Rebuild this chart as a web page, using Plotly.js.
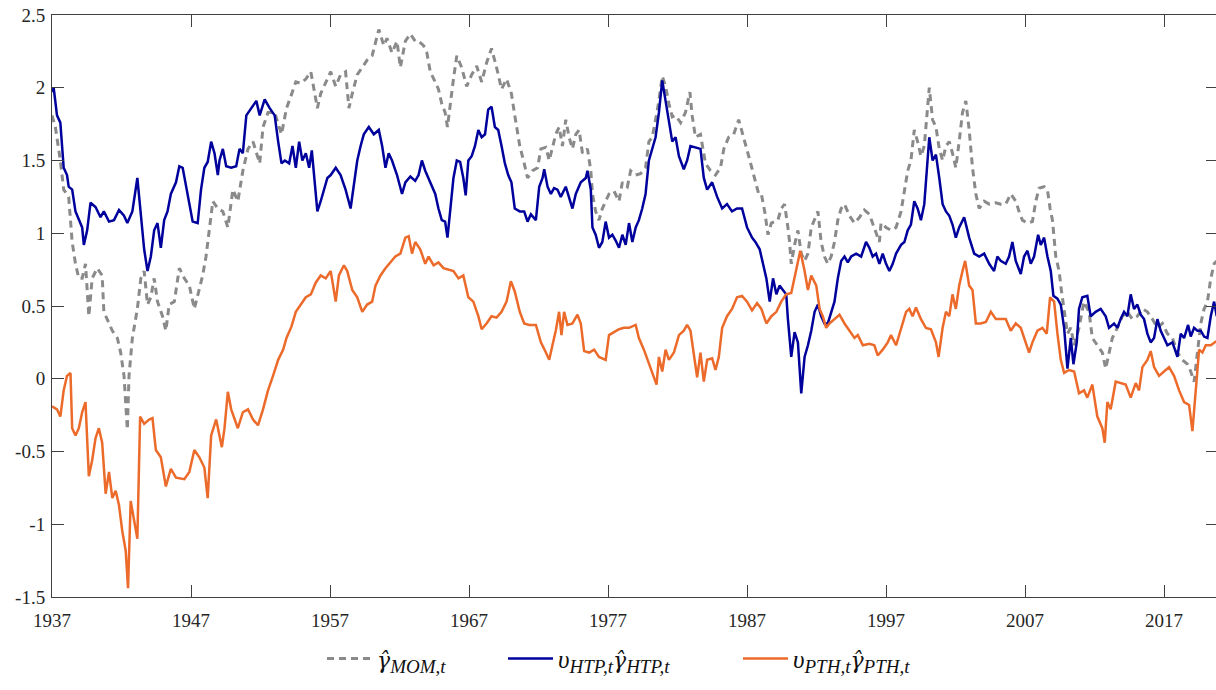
<!DOCTYPE html>
<html>
<head>
<meta charset="utf-8">
<script src="https://cdn.plot.ly/plotly-3.0.1.min.js"></script>
<style>
html,body{margin:0;padding:0;background:#fff;overflow:hidden;}
#chart{width:1220px;height:690px;}
</style>
</head>
<body>
<div id="chart"></div>
<script>
// ---------- data ----------
const htp_year = [1937.0,1937.12,1937.36,1937.6,1937.84,1938.08,1938.2,1938.45,1938.69,1938.93,1939.17,1939.29,1939.53,1939.77,1940.13,1940.49,1940.73,1941.1,1941.46,1941.82,1942.18,1942.42,1942.78,1943.14,1943.39,1943.63,1943.87,1944.11,1944.35,1944.59,1944.83,1945.07,1945.31,1945.55,1945.92,1946.16,1946.4,1946.76,1947.12,1947.48,1947.72,1947.96,1948.2,1948.45,1948.69,1948.93,1949.05,1949.29,1949.53,1949.89,1950.25,1950.49,1950.73,1950.98,1951.34,1951.7,1951.94,1952.3,1952.66,1953.02,1953.27,1953.51,1953.75,
1954.06,1954.3,1954.54,1954.78,1955.01,1955.26,1955.5,1955.69,1955.85,1956.09,1956.33,1956.57,1956.81,1957.05,1957.41,1957.76,1958.12,1958.48,1958.72,1958.96,1959.2,1959.43,1959.79,1960.15,1960.51,1960.75,1960.99,1961.22,1961.46,1961.82,1962.18,1962.42,1962.78,1963.13,1963.37,1963.61,1963.85,1964.21,1964.57,1964.8,1965.04,1965.28,1965.45,1965.64,1965.88,1966.12,1966.36,1966.59,1966.76,1966.95,1967.19,1967.43,1967.67,1967.91,1968.15,1968.38,1968.62,1968.86,1969.1,1969.34,1969.58,1969.82,1970.05,1970.29,1970.65,
1970.97,1971.21,1971.45,1971.81,1972.05,1972.29,1972.41,1972.65,1972.89,1973.12,1973.36,1973.6,1973.96,1974.2,1974.44,1974.68,1975.04,1975.4,1975.52,1975.76,1975.88,1976.11,1976.35,1976.59,1976.83,1977.07,1977.31,1977.55,1977.79,1978.03,1978.27,1978.51,1978.75,1978.99,1979.22,1979.46,1979.7,1979.94,1980.18,1980.42,1980.66,1980.9,1981.14,1981.38,1981.62,1981.86,1982.1,1982.45,1982.69,1982.93,1983.29,1983.65,1983.89,1984.13,1984.49,1984.85,1985.21,1985.56,1985.92,1986.28,1986.64,1987.0,1987.36,1987.6,
1987.91,1988.15,1988.39,1988.63,1988.87,1989.11,1989.34,1989.58,1989.82,1989.94,1990.18,1990.42,1990.66,1990.9,1991.14,1991.38,1991.62,1991.86,1992.1,1992.33,1992.57,1992.81,1993.05,1993.29,1993.53,1993.77,1994.01,1994.25,1994.49,1994.85,1995.21,1995.56,1995.8,1996.04,1996.28,1996.52,1996.76,1997.0,1997.24,1997.48,1997.72,1998.08,1998.32,1998.56,1998.79,1999.03,1999.27,1999.51,1999.75,1999.92,2000.11,2000.35,2000.59,2000.83,2001.07,2001.31,2001.55,2001.78,2002.02,2002.26,2002.62,2002.98,2003.34,2003.7,2004.06,2004.42,
2004.77,2005.01,2005.25,2005.61,2005.85,2006.09,2006.33,2006.69,2006.93,2007.17,2007.41,2007.65,2007.94,2008.13,2008.37,2008.61,2008.85,2009.04,2009.33,2009.57,2009.81,2010.05,2010.29,2010.48,2010.72,2010.88,2011.12,2011.48,2011.72,2012.08,2012.44,2012.8,2013.04,2013.4,2013.64,2013.88,2014.12,2014.36,2014.6,2014.84,2015.08,2015.32,2015.56,2015.8,2016.04,2016.28,2016.52,2016.76,2017.0,2017.24,2017.6,2017.96,2018.2,2018.44,2018.73,2018.92,2019.16,2019.4,2019.64,2019.88,2020.12,2020.36,2020.6,2020.79];
const htp_val = [1.97,2.0,1.81,1.76,1.45,1.40,1.32,1.30,1.15,1.09,1.04,0.92,1.02,1.21,1.18,1.11,1.15,1.08,1.09,1.16,1.12,1.07,1.15,1.38,1.12,0.89,0.74,0.84,1.02,1.07,0.90,1.09,1.15,1.27,1.35,1.46,1.45,1.27,1.08,1.07,1.30,1.45,1.49,1.63,1.55,1.40,1.50,1.58,1.46,1.45,1.46,1.58,1.55,1.81,1.86,1.91,1.81,1.92,1.86,1.81,1.63,1.48,1.50,
1.48,1.60,1.45,1.63,1.50,1.55,1.45,1.57,1.38,1.15,1.22,1.30,1.38,1.40,1.45,1.40,1.30,1.17,1.32,1.50,1.60,1.68,1.73,1.68,1.71,1.60,1.45,1.55,1.50,1.40,1.27,1.35,1.39,1.36,1.40,1.50,1.43,1.35,1.27,1.17,1.09,1.08,0.97,1.15,1.38,1.50,1.49,1.38,1.26,1.50,1.53,1.60,1.71,1.66,1.68,1.85,1.87,1.73,1.71,1.60,1.48,1.40,1.35,1.17,1.15,
1.15,1.08,1.13,1.09,1.32,1.38,1.44,1.32,1.27,1.31,1.30,1.25,1.32,1.25,1.17,1.27,1.35,1.38,1.43,1.30,1.04,0.99,0.90,0.94,1.08,0.97,0.99,0.95,0.90,0.99,0.92,1.07,0.94,1.04,1.09,1.17,1.27,1.50,1.58,1.66,1.83,2.05,1.91,1.78,1.63,1.66,1.53,1.44,1.50,1.60,1.59,1.58,1.38,1.30,1.35,1.25,1.17,1.20,1.15,1.17,1.17,1.04,0.97,0.94,
0.89,0.79,0.69,0.53,0.69,0.58,0.64,0.61,0.58,0.41,0.15,0.32,0.25,-0.10,0.15,0.23,0.33,0.46,0.51,0.43,0.38,0.38,0.46,0.53,0.69,0.81,0.84,0.80,0.84,0.86,0.84,0.94,0.90,0.84,0.86,0.79,0.86,0.79,0.74,0.79,0.86,0.92,0.94,1.02,1.06,1.22,1.17,1.09,1.20,1.40,1.66,1.50,1.54,1.38,1.20,1.15,1.12,1.06,0.97,1.04,1.11,0.97,0.86,0.84,0.86,0.79,
0.74,0.84,0.81,0.79,0.84,0.94,0.81,0.72,0.84,0.88,0.79,0.84,0.99,0.92,0.97,0.84,0.74,0.57,0.55,0.51,0.35,0.07,0.28,0.10,0.25,0.48,0.56,0.57,0.43,0.46,0.48,0.43,0.35,0.38,0.35,0.41,0.46,0.43,0.58,0.48,0.51,0.44,0.41,0.31,0.25,0.28,0.41,0.33,0.28,0.23,0.25,0.15,0.31,0.28,0.37,0.29,0.35,0.33,0.33,0.29,0.28,0.43,0.53,0.43];

const mom_year = [1937.0,1937.24,1937.6,1937.84,1938.2,1938.45,1938.69,1938.93,1939.17,1939.41,1939.65,1939.89,1940.25,1940.61,1940.73,1941.1,1941.34,1941.7,1941.94,1942.18,1942.42,1942.54,1942.78,1943.14,1943.39,1943.63,1943.87,1944.11,1944.35,1944.59,1944.95,1945.19,1945.43,1945.8,1946.16,1946.52,1946.88,1947.24,1947.6,1947.84,1948.08,1948.33,1948.57,1948.93,1949.29,1949.65,1950.01,1950.37,1950.73,1951.1,1951.46,1951.94,1952.18,1952.54,1953.02,1953.51,1953.87,
1954.18,1954.54,1954.9,1955.26,1955.62,1955.85,1956.09,1956.33,1956.69,1957.05,1957.41,1957.76,1958.12,1958.36,1958.6,1958.96,1959.32,1959.67,1960.03,1960.27,1960.51,1960.87,1961.1,1961.46,1961.82,1962.06,1962.42,1962.78,1963.13,1963.37,1963.73,1963.97,1964.21,1964.57,1964.8,1965.04,1965.28,1965.45,1965.64,1965.88,1966.12,1966.47,1966.83,1967.19,1967.55,1967.91,1968.26,1968.62,1968.98,1969.34,1969.7,1970.05,1970.29,1970.65,
1970.97,1971.21,1971.57,1971.93,1972.17,1972.53,1972.77,1973.0,1973.24,1973.48,1973.72,1973.96,1974.2,1974.44,1974.68,1974.92,1975.16,1975.52,1975.76,1975.88,1976.11,1976.35,1976.59,1976.83,1977.07,1977.43,1977.79,1978.03,1978.39,1978.63,1978.99,1979.34,1979.7,1979.94,1980.18,1980.42,1980.66,1980.9,1981.14,1981.38,1981.62,1981.86,1982.22,1982.57,1982.89,1983.05,1983.29,1983.65,1984.01,1984.37,1984.73,1985.09,1985.33,1985.68,1986.04,1986.4,1986.76,1987.12,1987.48,1987.84,
1988.03,1988.27,1988.51,1988.75,1988.99,1989.22,1989.46,1989.7,1989.94,1990.06,1990.18,1990.42,1990.66,1990.9,1991.14,1991.38,1991.62,1991.86,1992.1,1992.33,1992.57,1992.81,1993.05,1993.29,1993.53,1993.77,1994.01,1994.37,1994.73,1995.09,1995.44,1995.8,1996.16,1996.52,1996.64,1997.0,1997.36,1997.72,1998.08,1998.32,1998.56,1998.79,1999.03,1999.27,1999.51,1999.75,1999.92,2000.11,2000.35,2000.59,2000.83,2001.07,2001.31,2001.55,2001.78,2002.02,2002.26,2002.5,2002.74,2002.98,2003.22,2003.46,2003.7,2004.06,2004.42,2004.9,
2005.25,2005.61,2005.97,2006.33,2006.57,2006.81,2007.17,2007.53,2007.77,2008.01,2008.37,2008.61,2008.8,2008.97,2009.21,2009.45,2009.61,2009.81,2010.05,2010.29,2010.53,2010.88,2011.24,2011.6,2011.84,2012.2,2012.56,2012.8,2013.04,2013.28,2013.64,2014.0,2014.36,2014.72,2015.08,2015.44,2015.8,2016.16,2016.52,2016.88,2017.24,2017.6,2017.96,2018.32,2018.68,2018.92,2019.16,2019.4,2019.64,2019.88,2020.12,2020.36,2020.6,2020.79];
const mom_val = [1.81,1.73,1.50,1.30,1.25,0.94,0.79,0.69,0.69,0.79,0.43,0.69,0.76,0.71,0.46,0.38,0.33,0.28,0.18,0.02,-0.35,0.02,0.28,0.48,0.69,0.74,0.51,0.56,0.69,0.53,0.43,0.33,0.51,0.53,0.76,0.69,0.64,0.48,0.61,0.71,0.84,1.04,1.22,1.17,1.15,1.04,1.30,1.22,1.43,1.58,1.63,1.48,1.73,1.83,1.83,1.68,1.86,
1.94,2.04,2.03,2.06,2.11,1.99,1.86,1.96,2.04,2.11,2.01,2.09,2.11,1.86,1.96,2.09,2.14,2.19,2.22,2.32,2.40,2.29,2.34,2.24,2.32,2.14,2.32,2.37,2.32,2.32,2.29,2.24,2.11,2.04,1.99,1.89,1.83,1.73,1.89,2.06,2.22,2.14,2.01,2.09,2.15,2.04,2.17,2.27,2.14,1.99,2.06,1.96,1.81,1.60,
1.48,1.38,1.43,1.45,1.58,1.59,1.50,1.58,1.68,1.73,1.60,1.78,1.66,1.58,1.68,1.71,1.55,1.58,1.43,1.27,1.15,1.09,1.17,1.22,1.27,1.29,1.22,1.35,1.32,1.43,1.40,1.41,1.45,1.63,1.66,1.78,1.91,2.08,2.01,1.89,1.80,1.81,1.76,1.83,1.97,1.81,1.66,1.68,1.48,1.43,1.40,1.45,1.58,1.66,1.68,1.78,1.66,1.53,1.40,1.27,
1.27,1.15,0.99,1.07,1.08,1.09,1.17,1.20,1.04,0.94,0.79,0.92,1.02,0.86,0.81,0.86,1.04,1.09,1.15,0.94,0.84,0.79,0.84,0.94,1.09,1.17,1.20,1.12,1.07,1.11,1.16,1.13,1.04,0.94,1.07,1.04,1.02,1.04,1.15,1.30,1.43,1.50,1.71,1.63,1.53,1.60,1.81,2.00,1.78,1.73,1.58,1.50,1.60,1.63,1.55,1.45,1.63,1.83,1.91,1.71,1.45,1.27,1.17,1.22,1.20,1.21,
1.20,1.20,1.27,1.22,1.15,1.09,1.07,1.08,1.22,1.31,1.32,1.30,1.17,1.09,0.84,0.74,0.61,0.46,0.31,0.35,0.23,0.35,0.53,0.46,0.28,0.23,0.18,0.07,0.18,0.28,0.35,0.43,0.46,0.41,0.43,0.48,0.46,0.41,0.35,0.38,0.31,0.28,0.18,0.13,0.10,0.05,-0.02,0.18,0.38,0.48,0.53,0.69,0.79,0.81];

const pth_year = [1937.0,1937.36,1937.6,1937.84,1938.08,1938.33,1938.45,1938.69,1938.93,1939.17,1939.41,1939.65,1939.89,1940.13,1940.37,1940.61,1940.86,1941.1,1941.34,1941.58,1941.82,1942.06,1942.3,1942.47,1942.66,1942.9,1943.14,1943.34,1943.63,1943.99,1944.23,1944.47,1944.83,1945.19,1945.55,1945.92,1946.52,1946.88,1947.24,1947.6,1947.96,1948.2,1948.45,1948.81,1949.05,1949.22,1949.41,1949.65,1949.89,1950.13,1950.37,1950.73,1951.1,1951.46,1951.82,1952.18,1952.54,1952.9,1953.27,1953.63,1953.87,1954.23,
1954.54,1954.9,1955.26,1955.62,1955.97,1956.33,1956.69,1957.05,1957.41,1957.64,1958.0,1958.24,1958.6,1958.96,1959.32,1959.67,1960.03,1960.27,1960.63,1960.99,1961.34,1961.7,1962.06,1962.42,1962.66,1962.9,1963.13,1963.49,1963.85,1964.09,1964.45,1964.8,1965.16,1965.52,1965.88,1966.24,1966.59,1966.95,1967.31,1967.67,1967.91,1968.26,1968.62,1968.98,1969.34,1969.7,1970.01,1970.29,1970.65,
1970.97,1971.33,1971.81,1972.17,1972.53,1972.77,1973.0,1973.24,1973.48,1973.65,1973.84,1974.08,1974.44,1974.8,1975.04,1975.28,1975.64,1976.0,1976.35,1976.83,1977.07,1977.43,1977.79,1978.15,1978.51,1978.99,1979.22,1979.58,1979.94,1980.18,1980.49,1980.66,1980.9,1981.14,1981.38,1981.74,1982.1,1982.45,1982.69,1982.93,1983.17,1983.41,1983.65,1983.89,1984.13,1984.49,1984.73,1984.97,1985.21,1985.56,1985.92,1986.28,1986.64,1987.0,1987.36,1987.72,
1988.03,1988.39,1988.75,1989.11,1989.46,1989.82,1990.18,1990.54,1990.83,1991.14,1991.38,1991.62,1991.98,1992.22,1992.45,1992.69,1992.93,1993.29,1993.65,1994.01,1994.37,1994.73,1994.97,1995.33,1995.8,1996.16,1996.4,1996.76,1997.12,1997.36,1997.72,1998.08,1998.44,1998.67,1998.91,1999.15,1999.51,1999.87,2000.23,2000.59,2000.78,2001.07,2001.31,2001.55,2001.78,2002.02,2002.26,2002.5,2002.69,2002.98,2003.22,2003.46,2003.82,2004.18,2004.54,2004.9,
2005.25,2005.61,2005.97,2006.33,2006.69,2006.93,2007.29,2007.53,2007.89,2008.25,2008.56,2008.8,2009.09,2009.33,2009.57,2009.81,2010.17,2010.53,2010.88,2011.24,2011.48,2011.84,2012.2,2012.56,2012.73,2012.92,2013.16,2013.52,2013.88,2014.24,2014.6,2014.96,2015.2,2015.44,2015.8,2016.04,2016.28,2016.64,2017.0,2017.36,2017.72,2018.08,2018.44,2018.8,2019.04,2019.28,2019.52,2019.76,2020.0,2020.36,2020.79];
const pth_val = [-0.19,-0.21,-0.26,-0.08,0.02,0.04,-0.34,-0.39,-0.34,-0.23,-0.16,-0.67,-0.56,-0.41,-0.34,-0.44,-0.79,-0.64,-0.82,-0.77,-0.87,-1.05,-1.18,-1.44,-0.84,-0.97,-1.10,-0.26,-0.31,-0.28,-0.27,-0.49,-0.54,-0.74,-0.62,-0.68,-0.69,-0.64,-0.49,-0.54,-0.61,-0.82,-0.39,-0.28,-0.39,-0.47,-0.34,-0.09,-0.21,-0.28,-0.34,-0.23,-0.21,-0.28,-0.32,-0.21,-0.08,0.02,0.13,0.20,0.28,0.36,
0.46,0.51,0.56,0.58,0.66,0.71,0.69,0.74,0.53,0.71,0.78,0.74,0.61,0.56,0.46,0.51,0.53,0.64,0.71,0.76,0.80,0.84,0.86,0.97,0.98,0.86,0.94,0.89,0.79,0.84,0.78,0.80,0.76,0.75,0.74,0.69,0.71,0.56,0.53,0.43,0.34,0.38,0.43,0.42,0.46,0.53,0.67,0.60,0.46,
0.38,0.37,0.37,0.25,0.18,0.13,0.23,0.33,0.46,0.30,0.46,0.37,0.38,0.44,0.38,0.19,0.18,0.20,0.15,0.13,0.30,0.32,0.34,0.35,0.35,0.37,0.28,0.20,0.10,0.04,-0.04,0.15,0.05,0.20,0.13,0.18,0.30,0.33,0.37,0.33,0.18,0.01,0.18,-0.02,0.13,0.14,0.06,0.15,0.35,0.43,0.48,0.56,0.57,0.53,0.47,0.52,
0.48,0.38,0.43,0.46,0.53,0.58,0.59,0.74,0.88,0.74,0.61,0.71,0.64,0.48,0.43,0.35,0.38,0.41,0.44,0.38,0.33,0.28,0.30,0.23,0.24,0.23,0.16,0.20,0.25,0.30,0.23,0.35,0.46,0.48,0.43,0.49,0.41,0.35,0.34,0.25,0.15,0.35,0.46,0.43,0.58,0.48,0.64,0.74,0.81,0.64,0.61,0.38,0.38,0.39,0.46,0.41,
0.41,0.41,0.33,0.38,0.35,0.28,0.18,0.25,0.33,0.35,0.31,0.56,0.53,0.31,0.13,0.04,0.06,0.05,-0.10,-0.08,-0.13,-0.04,-0.26,-0.34,-0.44,-0.16,-0.21,-0.02,-0.03,-0.04,-0.13,-0.03,-0.08,0.08,0.13,0.19,0.08,0.02,0.05,0.08,0.02,-0.08,-0.16,-0.18,-0.36,-0.06,0.20,0.18,0.23,0.23,0.26];

const x_tick_vals = [1937,1947,1957,1967,1977,1987,1997,2007,2017];
const x_tick_text = ['1937','1947','1957','1967','1977','1987','1997','2007','2017'];
const y_tick_vals = [-1.5,-1,-0.5,0,0.5,1,1.5,2,2.5];
const y_tick_text = ['-1.5','-1','-0.5','0','0.5','1','1.5','2','2.5'];

const GHAT = '<span style="font-family:DejaVu Serif;font-size:22px"><i>γ̂</i></span>';
const UPS = '<i>υ</i>';
const SUB = '<sub><span style="font-size:19px"><i>';
const SUBEND = '</i></span></sub>';
const series_names = [
  GHAT + SUB + 'MOM,t' + SUBEND,
  UPS + SUB + 'HTP,t' + SUBEND + GHAT + SUB + 'HTP,t' + SUBEND,
  UPS + SUB + 'PTH,t' + SUBEND + GHAT + SUB + 'PTH,t' + SUBEND
];

// ---------- traces ----------
const traces = [
  {x: mom_year, y: mom_val, type:'scatter', mode:'lines', name: series_names[0], legend:'legend',
   line:{color:'#8a8a8a', width:3, dash:'7px,5px'}},
  {x: htp_year, y: htp_val, type:'scatter', mode:'lines', name: series_names[1], legend:'legend2',
   line:{color:'#00009c', width:2.5}},
  {x: pth_year, y: pth_val, type:'scatter', mode:'lines', name: series_names[2], legend:'legend3',
   line:{color:'#ec6a2a', width:2.5}}
];

const SERIF = 'Liberation Serif, Times New Roman, serif';
const axisFont = {family:SERIF, size:19, color:'#262626'};
const legFont = {family:SERIF, size:25, color:'#111'};
const legBase = {orientation:'h', yanchor:'middle', y:-0.106, xanchor:'left', font:legFont,
  bgcolor:'rgba(0,0,0,0)', borderwidth:0, itemwidth:45};

const layout = {
  width:1220, height:690,
  margin:{l:52, r:2, t:15, b:93},
  paper_bgcolor:'#fff', plot_bgcolor:'#fff',
  showlegend:true,
  xaxis:{range:[1937, 2020.88], tickvals:x_tick_vals, ticktext:x_tick_text,
    ticks:'inside', ticklen:12, tickwidth:1, tickcolor:'#404040',
    showline:true, linecolor:'#404040', linewidth:1, mirror:'ticks',
    showgrid:false, zeroline:false, tickfont:axisFont, ticklabelstandoff:6},
  yaxis:{range:[-1.5, 2.5], tickvals:y_tick_vals, ticktext:y_tick_text,
    ticks:'inside', ticklen:12, tickwidth:1, tickcolor:'#404040',
    showline:true, linecolor:'#404040', linewidth:1, mirror:'ticks',
    showgrid:false, zeroline:false, tickfont:axisFont, ticklabelstandoff:2},
  legend: Object.assign({}, legBase, {x:(322-52)/1166}),
  legend2: Object.assign({}, legBase, {x:(503-52)/1166}),
  legend3: Object.assign({}, legBase, {x:(738-52)/1166})
};

Plotly.newPlot('chart', traces, layout, {staticPlot:true, displayModeBar:false});
</script>
</body>
</html>
